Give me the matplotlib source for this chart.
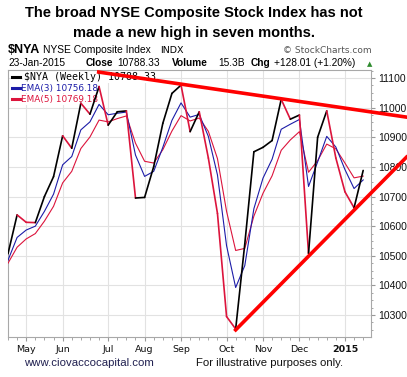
import numpy as np
import pandas as pd
import matplotlib
matplotlib.use("Agg")
import matplotlib.pyplot as plt

# --- Datos semanales (lunes de cada semana) ---
weeks = pd.date_range("2014-04-21", periods=40, freq="W-MON")

close = [10507, 10638, 10613, 10612, 10700, 10767, 10905, 10863, 11015, 10978,
         11071, 10941, 10986, 10989, 10695, 10697, 10801, 10947, 11048, 11076,
         10919, 10986, 10830, 10643, 10295, 10253, 10540, 10851, 10866, 10889,
         11028, 10961, 10975, 10508, 10900, 10989, 10830, 10716, 10662, 10788]

ema3 = [10485, 10562, 10587, 10600, 10650, 10708, 10807, 10835, 10925, 10952,
        11011, 10976, 10981, 10985, 10840, 10768, 10785, 10866, 10957, 11016,
        10968, 10977, 10903, 10773, 10534, 10393, 10467, 10659, 10762, 10826,
        10927, 10944, 10960, 10734, 10817, 10903, 10867, 10791, 10727, 10756]

ema5 = [10475, 10529, 10557, 10575, 10617, 10667, 10746, 10785, 10862, 10901,
        10958, 10952, 10963, 10972, 10880, 10819, 10813, 10858, 10921, 10973,
        10955, 10965, 10920, 10828, 10650, 10518, 10525, 10634, 10711, 10770,
        10856, 10891, 10919, 10782, 10821, 10877, 10861, 10813, 10763, 10769]

# lineas de tendencia dibujadas a mano (indice de semana, valor)
top_trend_x = [9.96, 43.76]
top_trend_y = [11120, 10968]
low_trend_x = [25.0, 43.76]
low_trend_y = [10250, 10833]

yticks = [10300, 10400, 10500, 10600, 10700, 10800, 10900, 11000, 11100]

BLACK = "#000000"
NAVY = "#1c1ca8"
CRIMSON = "#dc143c"
TREND = "#ff0000"

W, H = 407, 377
fig = plt.figure(figsize=(W / 100, H / 100), dpi=100)
ax = fig.add_axes([8 / W, 40 / H, 363 / W, 267 / H])

def fx(x):
    return x / W

def fy(y):
    return 1 - y / H

idx = np.arange(len(close))

# --- Series ---
ax.plot(idx, ema5, color=CRIMSON, lw=0.8, zorder=3)
ax.plot(idx, ema3, color=NAVY, lw=0.8, zorder=3)
for i in range(1, len(close)):
    col = BLACK if close[i] >= close[i - 1] else CRIMSON
    ax.plot(idx[i - 1:i + 1], close[i - 1:i + 1], color=col, lw=1.2,
            zorder=4, solid_capstyle="round")

ax.plot(top_trend_x, top_trend_y, color=TREND, lw=2.6, zorder=6, clip_on=False)
ax.plot(low_trend_x, low_trend_y, color=TREND, lw=2.6, zorder=6, clip_on=False)

# --- Ejes ---
ax.set_xlim(0.567, 39.86)
ax.set_ylim(10226, 11127)

month_pos = [i for i in range(1, len(weeks)) if weeks[i].month != weeks[i - 1].month]
month_lab = ["2015" if weeks[i].month == 1 else weeks[i].strftime("%b") for i in month_pos]
ax.set_xticks(month_pos)
ax.set_xticklabels(month_lab, fontsize=6.8, family="DejaVu Sans")
for t in ax.get_xticklabels():
    if t.get_text() == "2015":
        t.set_fontweight("bold")
ax.set_xticks(idx, minor=True)

ax.yaxis.tick_right()
ax.set_yticks(yticks)
ax.set_yticklabels([str(v) for v in yticks], fontsize=7.5, family="Liberation Sans")
ax.set_yticks(np.arange(10250, 11126, 25), minor=True)

ax.tick_params(axis="both", which="both", colors="#999999", labelcolor="#111111")
ax.tick_params(axis="x", which="major", length=3, pad=3)
ax.tick_params(axis="x", which="minor", length=2)
ax.tick_params(axis="y", which="major", length=3, pad=2)
ax.tick_params(axis="y", which="minor", length=1.5)

ax.grid(True, which="major", color="#e2e2e2", lw=0.8, zorder=0)
ax.set_axisbelow(True)
for s in ax.spines.values():
    s.set_color("#a8a8a8")
    s.set_linewidth(0.8)

# --- Leyenda (dentro del eje, debajo de las lineas) ---
leg = [("$NYA (Weekly) 10788.33", BLACK, 80, 24, "DejaVu Sans Mono", 7.2),
       ("EMA(3) 10756.18", NAVY, 90.7, 21, "DejaVu Sans", 6.4),
       ("EMA(5) 10769.18", CRIMSON, 101.7, 21, "DejaVu Sans", 6.4)]
for txt, col, yb, xs, fam, fs in leg:
    ax.text(fx(xs), fy(yb), txt, color=col, fontsize=fs, family=fam,
            va="baseline", ha="left", zorder=2, transform=fig.transFigure,
            bbox=dict(facecolor="white", edgecolor="none", pad=0.6))
    ax.plot([fx(11.5), fx(19.5)], [fy(yb - 3.2)] * 2, color=col, lw=2.2,
            transform=fig.transFigure, clip_on=False, zorder=2.5)

# --- Cabecera ---
fig.text(fx(194), fy(17), "The broad NYSE Composite Stock Index has not",
         ha="center", va="baseline", fontsize=10.5, fontweight="bold",
         family="Liberation Sans")
fig.text(fx(194), fy(37), "made a new high in seven months.",
         ha="center", va="baseline", fontsize=10.5, fontweight="bold",
         family="Liberation Sans")

fig.text(fx(8), fy(53), "$NYA", fontsize=9, fontweight="bold",
         family="Liberation Sans", va="baseline")
fig.text(fx(43), fy(53), "NYSE Composite Index", fontsize=7.4,
         family="Liberation Sans", va="baseline")
fig.text(fx(160), fy(53), "INDX", fontsize=6.8, family="DejaVu Sans",
         va="baseline")
fig.text(fx(283), fy(53), "\u00a9 StockCharts.com", fontsize=6.5, color="#555555",
         family="DejaVu Sans", va="baseline")

row2 = [("23-Jan-2015", 8, "normal"), ("Close", 86, "bold"),
        ("10788.33", 117, "normal"), ("Volume", 172, "bold"),
        ("15.3B", 218, "normal"), ("Chg", 251, "bold"),
        ("+128.01 (+1.20%)", 274, "normal")]
for txt, xs, fw in row2:
    fig.text(fx(xs), fy(66.5), txt, fontsize=7.3, fontweight=fw,
             family="Liberation Sans", va="baseline")
fig.text(fx(367), fy(66.5), "\u25b2", fontsize=5, color="#2e8b2e",
         family="DejaVu Sans", va="baseline")

# --- Pie ---
fig.text(fx(89), fy(366.5), "www.ciovaccocapital.com", ha="center",
         va="baseline", fontsize=8.2, color="#202050", family="Liberation Sans")
fig.text(fx(269.5), fy(366.5), "For illustrative purposes only.", ha="center",
         va="baseline", fontsize=8.2, color="#111111", family="Liberation Sans")

fig.savefig("out.png", dpi=100)
